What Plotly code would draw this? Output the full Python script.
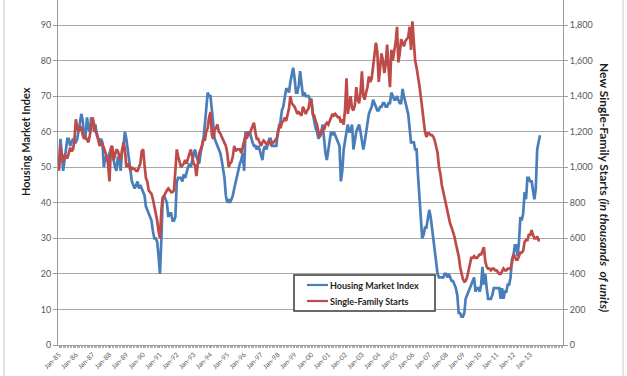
import pandas as pd
import plotly.graph_objects as go

start_month = "1985-01-01"

# NAHB Housing Market Index, monthly (Jan-85 .. Aug-13)
hmi_values = [
    50, 58, 54, 49, 52, 55, 58, 58, 56, 57, 58, 57,   # 1985
    57, 58, 60, 62, 65, 63, 58, 59, 64, 61, 60, 64,   # 1986
    63, 60, 62, 59, 58, 57, 58, 57, 50, 53, 52, 52,   # 1987
    54, 55, 53, 52, 50, 49, 53, 52, 49, 55, 56, 60,   # 1988
    58, 55, 52, 48, 46, 45, 44, 45, 46, 44, 45, 44,   # 1989
    43, 42, 39, 38, 37, 36, 35, 32, 30, 30, 29, 25,   # 1990
    20, 30, 41, 42, 41, 40, 36, 37, 37, 35, 35, 36,   # 1991
    46, 47, 47, 47, 46, 48, 47, 49, 50, 51, 50, 52,   # 1992
    54, 55, 53, 52, 51, 54, 56, 58, 62, 67, 71, 70,   # 1993
    70, 66, 63, 58, 57, 56, 55, 54, 52, 50, 47, 42,   # 1994
    40, 41, 40, 41, 42, 44, 46, 48, 50, 51, 52, 54,   # 1995
    49, 60, 59, 59, 60, 58, 57, 56, 56, 55, 56, 55,   # 1996
    53, 52, 55, 56, 55, 57, 58, 58, 56, 56, 56, 56,   # 1997
    60, 61, 63, 66, 67, 69, 72, 72, 71, 74, 76, 78,   # 1998
    75, 71, 71, 73, 77, 74, 70, 71, 70, 70, 70, 69,   # 1999
    69, 65, 63, 61, 60, 58, 59, 60, 62, 57, 54, 52,   # 2000
    55, 58, 60, 59, 60, 59, 58, 57, 56, 46, 49, 55,   # 2001
    58, 60, 62, 60, 60, 62, 55, 58, 60, 61, 62, 60,   # 2002
    58, 55, 57, 60, 62, 65, 66, 67, 69, 68, 67, 66,   # 2003
    66, 67, 67, 68, 68, 67, 67, 68, 68, 71, 70, 69,   # 2004
    69, 70, 69, 68, 68, 72, 70, 68, 67, 65, 61, 57,   # 2005
    57, 57, 55, 55, 48, 42, 36, 30, 31, 33, 33, 35,   # 2006
    38, 36, 33, 31, 27, 24, 20, 19, 19, 19, 19, 20,   # 2007
    20, 19, 20, 19, 18, 18, 17, 16, 14, 9, 9, 8,      # 2008
    8, 9, 13, 14, 15, 16, 17, 18, 19, 15, 16, 16,     # 2009
    15, 17, 22, 17, 20, 16, 13, 13, 13, 14, 16, 16,   # 2010
    16, 16, 16, 13, 16, 13, 15, 15, 17, 17, 19, 24,   # 2011
    25, 28, 28, 25, 29, 36, 35, 37, 43, 41, 47, 47,   # 2012
    46, 46, 44, 41, 44, 55, 57, 59,                   # 2013
]

# Single-family housing starts, thousands of units (SAAR), monthly
starts_values = [
    980, 1120, 1060, 1030, 1070, 1060, 1050, 1080, 1110, 1090, 1100, 1150,   # 1985
    1270, 1220, 1200, 1230, 1220, 1180, 1160, 1170, 1150, 1140, 1180, 1230,  # 1986
    1280, 1240, 1200, 1190, 1150, 1120, 1140, 1130, 1110, 1090, 1060, 1020,  # 1987
    920, 1110, 1120, 1040, 1080, 1100, 1090, 1060, 1040, 1090, 1140, 1100,   # 1988
    1000, 1020, 1010, 980, 1000, 990, 990, 980, 980, 1000, 1020, 1090,      # 1989
    1100, 1010, 940, 920, 870, 860, 850, 820, 780, 730, 700, 640,           # 1990
    600, 760, 830, 840, 860, 870, 880, 870, 860, 860, 870, 980,             # 1991
    1100, 1060, 1020, 1000, 1010, 1020, 1040, 1020, 1050, 1070, 1100, 1060,  # 1992
    1020, 1010, 950, 1020, 1080, 1100, 1120, 1160, 1150, 1200, 1220, 1280,   # 1993
    1310, 1180, 1160, 1210, 1220, 1240, 1200, 1190, 1170, 1160, 1140, 1120,  # 1994
    1080, 1000, 1020, 1030, 1060, 1120, 1090, 1100, 1100, 1100, 1080, 1120,  # 1995
    1140, 1180, 1160, 1200, 1190, 1210, 1230, 1250, 1200, 1160, 1160, 1140,  # 1996
    1120, 1140, 1150, 1140, 1130, 1140, 1150, 1130, 1140, 1140, 1150, 1160,  # 1997
    1180, 1240, 1220, 1250, 1260, 1280, 1260, 1300, 1330, 1400, 1360, 1350,  # 1998
    1340, 1320, 1300, 1310, 1300, 1290, 1340, 1320, 1300, 1320, 1330, 1380,  # 1999
    1370, 1300, 1290, 1260, 1240, 1200, 1170, 1190, 1220, 1210, 1240, 1250,  # 2000
    1240, 1260, 1280, 1300, 1290, 1300, 1290, 1280, 1280, 1250, 1270, 1240,  # 2001
    1330, 1500, 1300, 1340, 1400, 1330, 1320, 1350, 1450, 1380, 1360, 1420,  # 2002
    1540, 1400, 1380, 1420, 1450, 1510, 1480, 1500, 1560, 1620, 1700, 1650,  # 2003
    1480, 1560, 1640, 1600, 1530, 1580, 1690, 1560, 1450, 1660, 1600, 1650,  # 2004
    1700, 1790, 1590, 1640, 1720, 1700, 1680, 1710, 1720, 1730, 1790, 1660,  # 2005
    1820, 1720, 1600, 1560, 1520, 1460, 1400, 1330, 1280, 1200, 1170, 1190,  # 2006
    1190, 1180, 1180, 1170, 1150, 1120, 1080, 1000, 960, 900, 860, 820,     # 2007
    780, 740, 700, 680, 660, 640, 610, 570, 540, 500, 440, 400,             # 2008
    370, 356, 360, 380, 420, 460, 490, 490, 500, 490, 490, 500,             # 2009
    510, 510, 530, 550, 470, 440, 430, 430, 420, 430, 430, 420,             # 2010
    420, 410, 400, 400, 420, 430, 420, 420, 430, 430, 430, 460,             # 2011
    510, 500, 480, 480, 500, 520, 520, 530, 580, 590, 590, 620,             # 2012
    620, 646, 620, 600, 600, 610, 590, 590,                                 # 2013
]

series_names = ["Housing Market Index", "Single-Family Starts"]
tick_years = list(range(1985, 2014))
tick_labels = ["Jan-%02d" % (y % 100) for y in tick_years]
left_ticks = [0, 10, 20, 30, 40, 50, 60, 70, 80, 90]
right_ticks = [0, 200, 400, 600, 800, 1000, 1200, 1400, 1600, 1800]
right_tick_labels = ["0", "200", "400", "600", "800", "1,000", "1,200", "1,400", "1,600", "1,800"]

months = pd.date_range(start_month, periods=len(hmi_values), freq="MS")
tick_dates = [pd.Timestamp(year=y, month=1, day=1) for y in tick_years]

BLUE = "#4A7EBB"
RED = "#BE4B48"
FONT = "Lato, 'Open Sans', sans-serif"
TXT = "#1E1E1E"

fig = go.Figure()
fig.add_trace(go.Scatter(x=months, y=hmi_values, name=series_names[0],
                         mode="lines", line=dict(color=BLUE, width=2.7), yaxis="y"))
fig.add_trace(go.Scatter(x=months, y=starts_values[:len(months)], name=series_names[1],
                         mode="lines", line=dict(color=RED, width=2.7), yaxis="y2"))

# plot area in pixels: left 58, right 563, top 0, bottom 345
PL, PR, PB = 58, 563, 345
PW = PR - PL
ymax = 97.03


def px(x):
    return (x - PL) / PW


def py(y):
    return (PB - y) / PB


fig.update_layout(
    width=627, height=376,
    margin=dict(l=PL, r=627 - PR, t=0, b=376 - PB, autoexpand=False),
    paper_bgcolor="white", plot_bgcolor="white",
    font=dict(family=FONT, size=9, color="#595959"),
    showlegend=False,
    xaxis=dict(
        type="date",
        range=["1984-12-10", "2014-12-13"],
        tickvals=tick_dates, ticktext=tick_labels,
        tickangle=-45, tickfont=dict(size=6.8, color="#595959"),
        ticks="outside", ticklen=2, tickcolor="#9A9A9A",
        minor=dict(dtick="M1", ticks="outside", ticklen=2, tickcolor="#B0B0B0", showgrid=False),
        showline=True, linecolor="#9A9A9A", linewidth=1,
        showgrid=False, zeroline=False,
    ),
    yaxis=dict(
        range=[0, ymax], tickvals=left_ticks,
        showgrid=True, gridcolor="#A8A8A8", gridwidth=1,
        showline=True, linecolor="#9A9A9A", linewidth=1,
        ticks="outside", ticklen=4, tickcolor="#9A9A9A",
        zeroline=False, tickfont=dict(size=9, color="#595959"),
    ),
    yaxis2=dict(
        range=[0, ymax * 20], overlaying="y", side="right",
        tickvals=right_ticks, ticktext=right_tick_labels,
        showgrid=False, showline=True, linecolor="#9A9A9A", linewidth=1,
        ticks="outside", ticklen=4, tickcolor="#9A9A9A",
        zeroline=False, tickfont=dict(size=9, color="#595959"),
    ),
)

# axis titles
fig.add_annotation(text="<b>Housing Market Index</b>", xref="paper", yref="paper",
                   x=px(25), y=py(142), xanchor="center", yanchor="middle",
                   textangle=-90, showarrow=False,
                   font=dict(family=FONT, size=11, color=TXT))
fig.add_annotation(text="<b>New Single-Family Starts <i>(in thousands&nbsp; of units)</i></b>",
                   xref="paper", yref="paper", x=px(605), y=py(187),
                   xanchor="center", yanchor="middle", textangle=90, showarrow=False,
                   font=dict(family=FONT, size=12, color=TXT))

# legend drawn as a box with line samples
fig.add_shape(type="rect", xref="paper", yref="paper",
              x0=px(294), x1=px(435), y0=py(311), y1=py(275),
              fillcolor="white", line=dict(color="#3A3A3A", width=1.5))
legend_y = [285, 301]
legend_colors = [BLUE, RED]
for name, yy, col in zip(series_names, legend_y, legend_colors):
    fig.add_shape(type="line", xref="paper", yref="paper",
                  x0=px(307), x1=px(328), y0=py(yy), y1=py(yy),
                  line=dict(color=col, width=2.2))
    fig.add_annotation(text="<b>%s</b>" % name, xref="paper", yref="paper",
                       x=px(328), y=py(yy), xanchor="left", yanchor="middle",
                       showarrow=False, font=dict(family=FONT, size=9, color=TXT))

# outer chart frame lines
for xx in (4, 623):
    fig.add_shape(type="line", xref="paper", yref="paper", x0=px(xx), x1=px(xx),
                  y0=py(376), y1=1, line=dict(color="#C8C8C8", width=1))

fig.write_html("out.html", config={"displayModeBar": False},
               post_script="document.body.style.margin='0';document.body.style.overflow='hidden';")
